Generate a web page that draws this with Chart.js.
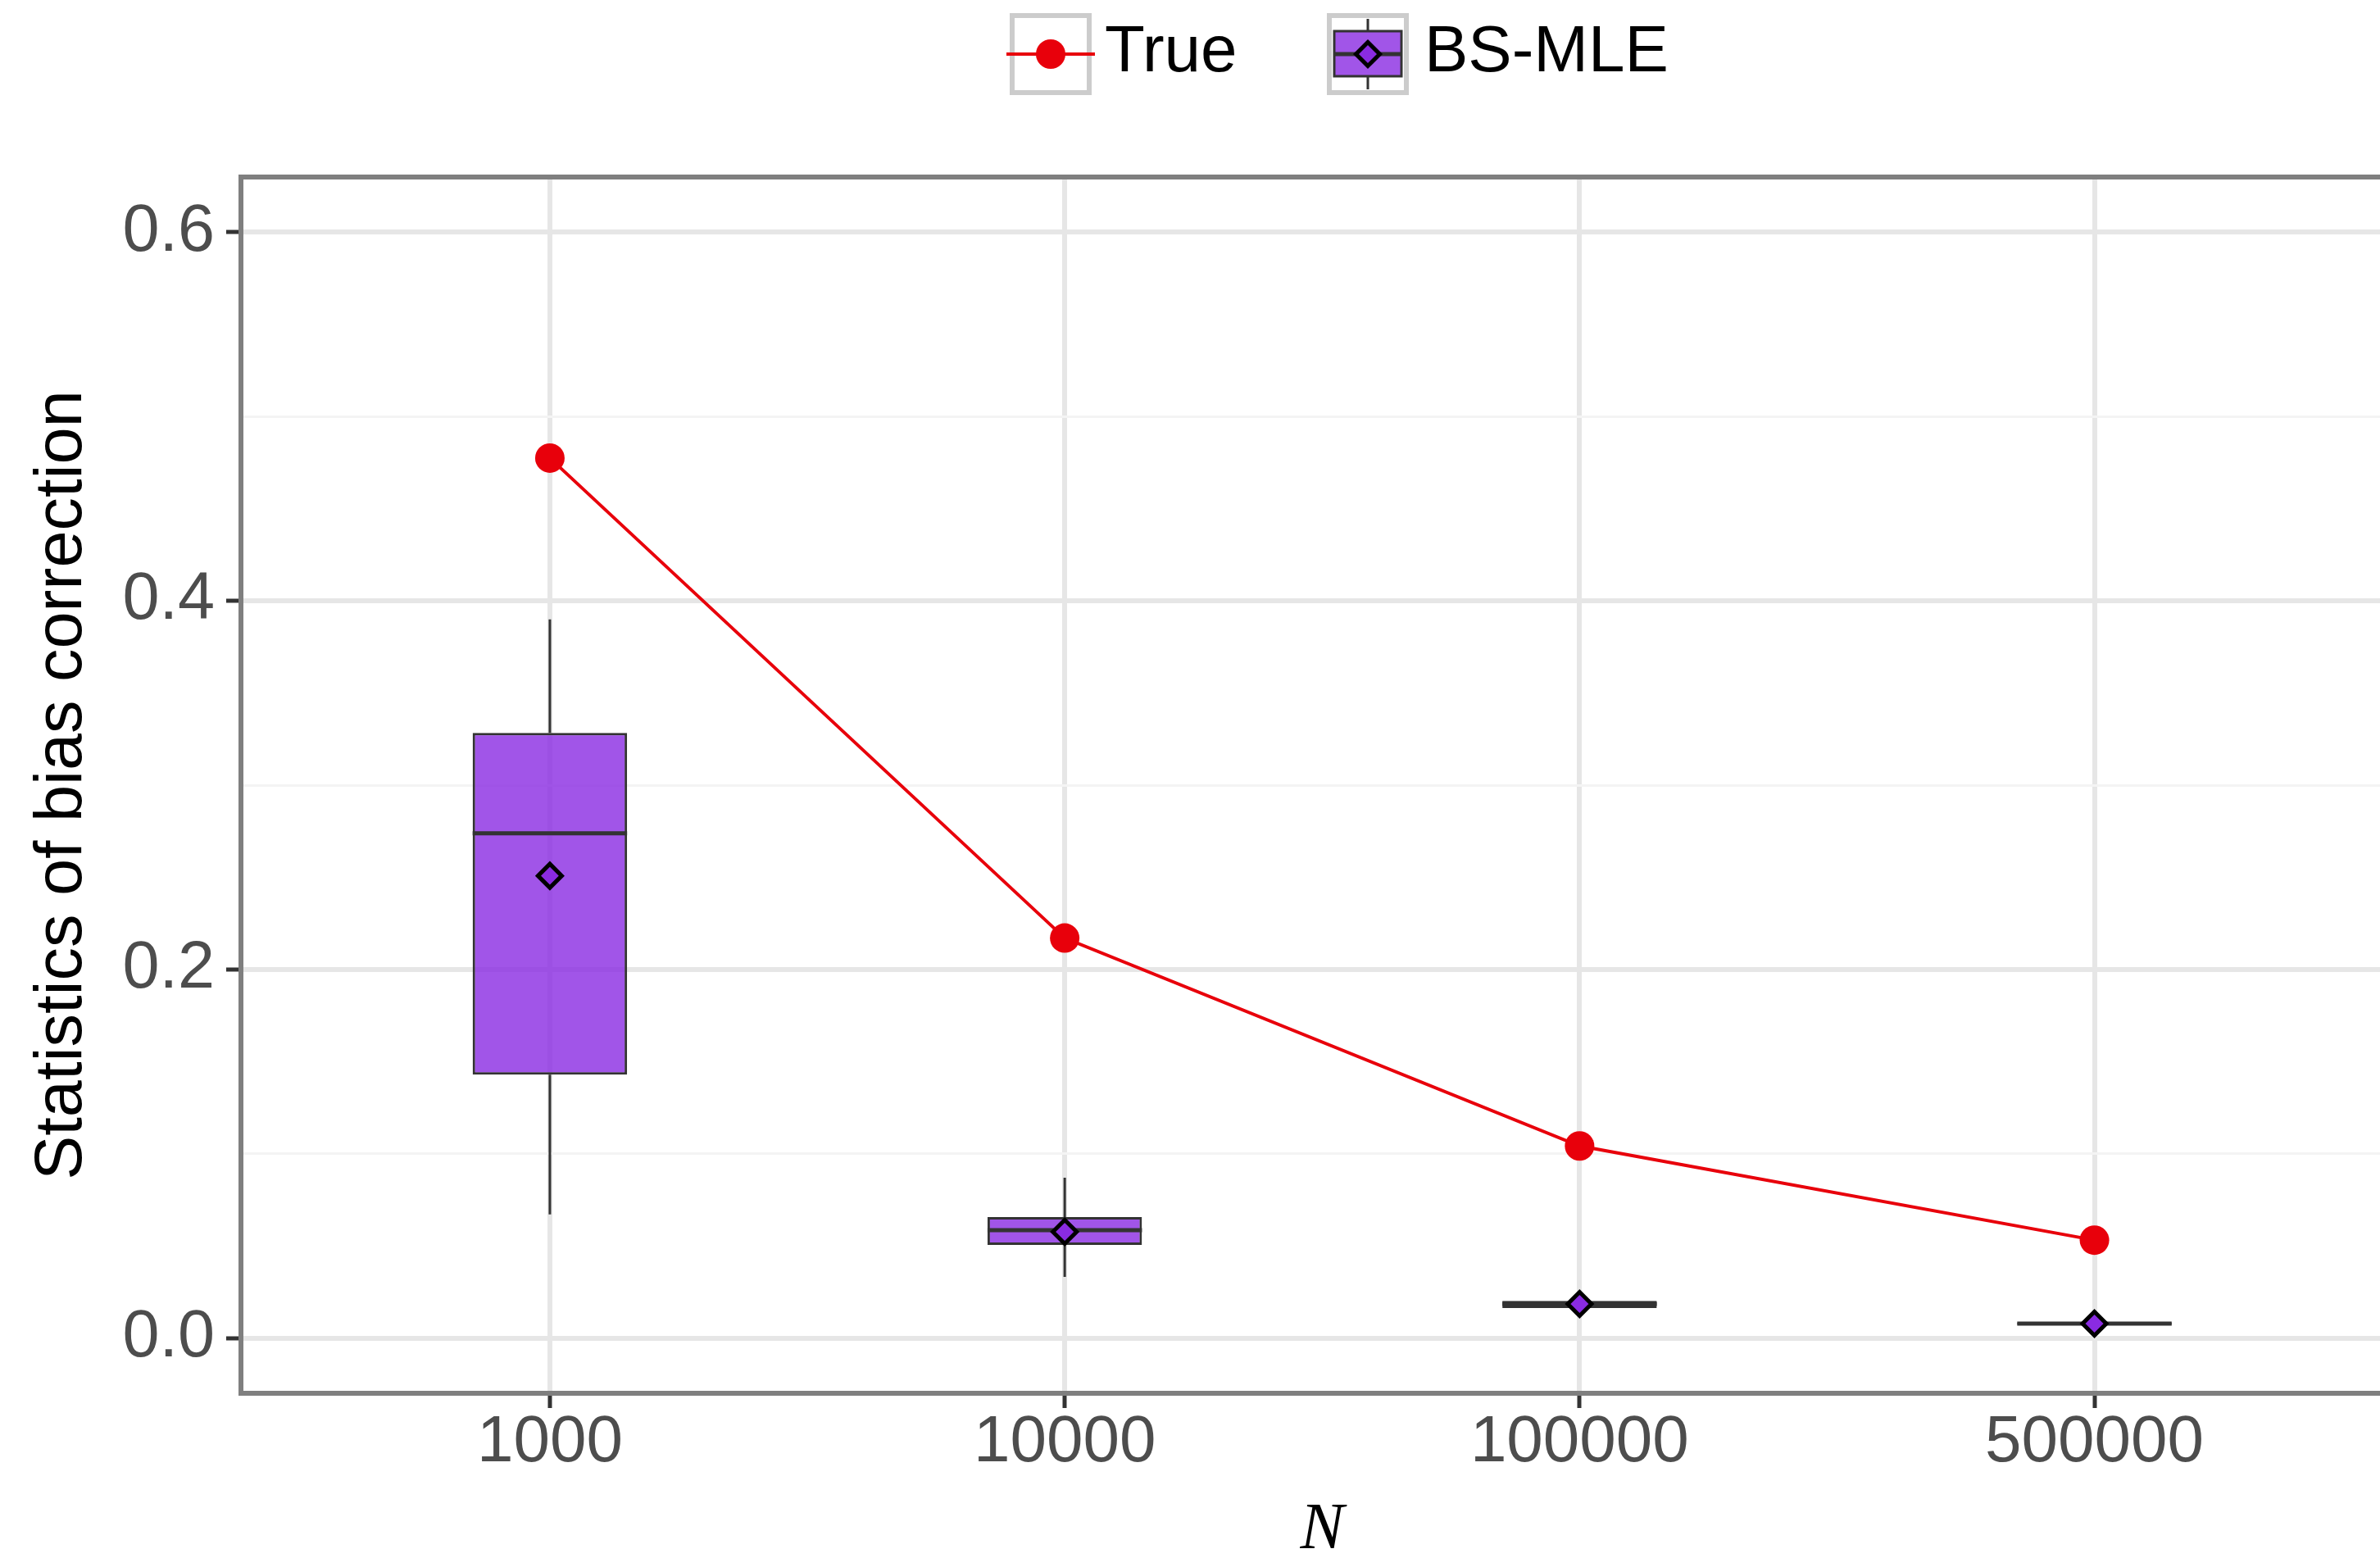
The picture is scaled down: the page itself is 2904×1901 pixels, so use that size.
<!DOCTYPE html>
<html>
<head>
<meta charset="utf-8">
<script src="https://cdn.jsdelivr.net/npm/chart.js@4.4.1/dist/chart.umd.min.js"></script>
<style>
  html, body { margin: 0; padding: 0; background: #fff; overflow: hidden; }
  #wrap { width: 2952px; height: 1901px; }
</style>
</head>
<body>
<div id="wrap"><canvas id="grafico" width="2952" height="1901"></canvas></div>
<script>
// === Dados ===
const categorias = ["1000", "10000", "100000", "500000"];
const valoresTrue = [0.4775, 0.217, 0.1042, 0.0531];

// boxplot BS-MLE
const bsMin     = [0.0671, 0.0331, 0.0150, 0.0073];
const bsQ1      = [0.1429, 0.0505, 0.0162, 0.0074];
const bsMediana = [0.2739, 0.0585, 0.0185, 0.0078];
const bsQ3      = [0.3283, 0.0656, 0.0202, 0.0082];
const bsMax     = [0.3900, 0.0870, 0.0215, 0.0083];
const bsMedia   = [0.2508, 0.0576, 0.0185, 0.0078];

const ticksY = [0, 0.1, 0.2, 0.3, 0.4, 0.5, 0.6];
const labelsY = ["0.0", "", "0.2", "", "0.4", "", "0.6"];

// === Estilo ===
const FONTE = "'Liberation Sans', Arial, Helvetica, sans-serif";
const LARGURA_BOX = 0.3;
const COR_TRUE = "#E8000B";
const COR_BOX = "rgba(138, 43, 226, 0.8)";
const COR_MEDIA = "#8A2BE2";
const COR_LINHA = "#333333";
const COR_GRADE = "#E6E6E6";
const COR_GRADE_MENOR = "#F4F4F4";

Chart.defaults.font.family = FONTE;

// === Montagem das séries ===
const pontosTrue = categorias.map((c, i) => ({ x: i, y: valoresTrue[i] }));
const caixas = categorias.map((c, i) => ({ x: i, y: [bsQ1[i], bsQ3[i]] }));
const medias = categorias.map((c, i) => ({ x: i, y: bsMedia[i] }));

const bigodes = [];
const medianas = [];
categorias.forEach((c, i) => {
    bigodes.push({ x: i, y: bsMin[i] }, { x: i, y: bsQ1[i] }, { x: i, y: null },
                 { x: i, y: bsQ3[i] }, { x: i, y: bsMax[i] }, { x: i, y: null });
    medianas.push({ x: i - LARGURA_BOX / 2, y: bsMediana[i] },
                  { x: i + LARGURA_BOX / 2, y: bsMediana[i] }, { x: i, y: null });
});

// === Plugins ===
const moldura = {
    id: "moldura",
    afterDatasetsDraw(chart) {
        const { ctx, chartArea: a } = chart;
        ctx.save();
        ctx.strokeStyle = "#7F7F7F";
        ctx.lineWidth = 6;
        ctx.strokeRect(a.left, a.top, a.right - a.left, a.bottom - a.top);
        ctx.restore();
    }
};

function desenharLosango(ctx, x, y) {
    const r = 14.5;
    ctx.save();
    ctx.beginPath();
    ctx.moveTo(x - r, y);
    ctx.lineTo(x, y - r);
    ctx.lineTo(x + r, y);
    ctx.lineTo(x, y + r);
    ctx.closePath();
    ctx.fillStyle = COR_MEDIA;
    ctx.fill();
    ctx.lineWidth = 5;
    ctx.strokeStyle = "#000";
    ctx.stroke();
    ctx.restore();
}

const legenda = {
    id: "legenda",
    afterDraw(chart) {
        const ctx = chart.ctx;
        const cy = 66;
        ctx.save();

        // chave True
        let cx = 1282;
        ctx.strokeStyle = "#CCCCCC";
        ctx.lineWidth = 6;
        ctx.strokeRect(cx - 47, cy - 47, 94, 94);
        ctx.strokeStyle = COR_TRUE;
        ctx.lineWidth = 4;
        ctx.beginPath();
        ctx.moveTo(cx - 54, cy);
        ctx.lineTo(cx + 54, cy);
        ctx.stroke();
        ctx.fillStyle = COR_TRUE;
        ctx.beginPath();
        ctx.arc(cx, cy, 18, 0, Math.PI * 2);
        ctx.fill();

        // chave BS-MLE
        cx = 1669;
        ctx.strokeStyle = "#CCCCCC";
        ctx.lineWidth = 6;
        ctx.strokeRect(cx - 47, cy - 47, 94, 94);
        ctx.strokeStyle = COR_LINHA;
        ctx.lineWidth = 3;
        ctx.beginPath();
        ctx.moveTo(cx, cy - 43); ctx.lineTo(cx, cy - 28);
        ctx.moveTo(cx, cy + 27); ctx.lineTo(cx, cy + 43);
        ctx.stroke();
        ctx.fillStyle = COR_BOX;
        ctx.fillRect(cx - 41, cy - 28, 82, 55);
        ctx.strokeRect(cx - 41, cy - 28, 82, 55);
        ctx.lineWidth = 5;
        ctx.beginPath();
        ctx.moveTo(cx - 41, cy); ctx.lineTo(cx + 41, cy);
        ctx.stroke();
        desenharLosango(ctx, cx, cy);

        // textos
        ctx.fillStyle = "#000";
        ctx.font = "80px " + FONTE;
        ctx.textBaseline = "alphabetic";
        ctx.textAlign = "left";
        ctx.fillText("True", 1348, 87);
        ctx.fillText("BS-MLE", 1738, 87);
        ctx.restore();
    }
};

// === Gráfico ===
const ehMaior = (i) => i % 2 === 0;

new Chart(document.getElementById("grafico"), {
    type: "scatter",
    data: {
        datasets: [
            {
                label: "True",
                data: pontosTrue,
                showLine: true,
                borderColor: COR_TRUE,
                borderWidth: 4,
                pointRadius: 18,
                pointBackgroundColor: COR_TRUE,
                pointBorderWidth: 0
            },
            {
                label: "BS-MLE média",
                data: medias,
                pointStyle: "rectRot",
                pointRadius: 14.5,
                pointBorderWidth: 5,
                pointBorderColor: "#000",
                pointBackgroundColor: COR_MEDIA
            },
            {
                label: "mediana",
                data: medianas,
                showLine: true,
                spanGaps: false,
                borderColor: COR_LINHA,
                borderWidth: 5,
                pointRadius: 0
            },
            {
                label: "bigodes",
                data: bigodes,
                showLine: true,
                spanGaps: false,
                borderColor: COR_LINHA,
                borderWidth: 3,
                pointRadius: 0
            },
            {
                type: "bar",
                label: "BS-MLE",
                data: caixas,
                backgroundColor: COR_BOX,
                borderColor: COR_LINHA,
                borderWidth: 3,
                borderSkipped: false,
                categoryPercentage: 1,
                barPercentage: LARGURA_BOX
            }
        ]
    },
    options: {
        responsive: false,
        devicePixelRatio: 1,
        animation: false,
        events: [],
        layout: { padding: { top: 216, left: 0, right: 5, bottom: 0 } },
        plugins: {
            legend: { display: false },
            tooltip: { enabled: false }
        },
        scales: {
            x: {
                type: "linear",
                min: -0.6,
                max: 3.6,
                offset: false,
                grid: {
                    offset: false,
                    color: COR_GRADE,
                    lineWidth: 6,
                    tickColor: COR_LINHA,
                    tickWidth: 5,
                    tickLength: 18
                },
                border: { display: false },
                ticks: {
                    stepSize: 1,
                    includeBounds: false,
                    autoSkip: false,
                    maxRotation: 0,
                    padding: 3,
                    color: "#4D4D4D",
                    font: { size: 80, lineHeight: 1 },
                    callback: (v) => categorias[v] ?? ""
                },
                title: {
                    display: true,
                    text: "N",
                    color: "#000",
                    font: { family: "'Liberation Serif', 'Times New Roman', serif", style: "italic", size: 80, lineHeight: 0.8 },
                    padding: { top: 0, bottom: 1 }
                },
                afterFit: (s) => { s.height = 201; }
            },
            y: {
                type: "linear",
                min: -0.03,
                max: 0.63,
                afterBuildTicks: (s) => { s.ticks = ticksY.map(v => ({ value: v })); },
                grid: {
                    color: (c) => ehMaior(c.index) ? COR_GRADE : COR_GRADE_MENOR,
                    lineWidth: (c) => ehMaior(c.index) ? 6 : 3,
                    tickColor: (c) => ehMaior(c.index) ? COR_LINHA : "rgba(0,0,0,0)",
                    tickWidth: 5,
                    tickLength: 18
                },
                border: { display: false },
                ticks: {
                    autoSkip: false,
                    padding: 14,
                    color: "#4D4D4D",
                    font: { size: 81, lineHeight: 1 },
                    callback: (v, i) => labelsY[i]
                },
                title: {
                    display: true,
                    text: "Statistics of bias correction",
                    color: "#000",
                    font: { size: 81 },
                    padding: { top: 28, bottom: 0 }
                },
                afterFit: (s) => { s.width = 294; }
            }
        }
    },
    plugins: [moldura, legenda]
});
</script>
</body>
</html>
